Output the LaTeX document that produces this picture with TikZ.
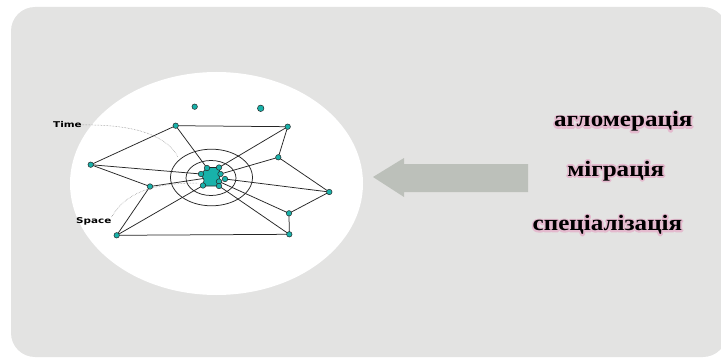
\documentclass[tikz,border=0pt]{standalone}
\usepackage{fontspec}
\setmainfont{Liberation Serif}
\newfontfamily\cyrfont[FakeStretch=1.14]{Liberation Serif}
\newfontfamily\tagfont[FakeStretch=1.3]{DejaVu Sans}
\usetikzlibrary{calc}
\definecolor{panelgray}{RGB}{227,227,226}
\definecolor{arrowgray}{RGB}{188,192,186}
\definecolor{dotcyan}{RGB}{24,178,170}
\definecolor{glowpink}{RGB}{228,186,206}
\tikzset{
    dot/.style={circle, draw=black!85, fill=dotcyan, inner sep=0pt, minimum size=5.5pt, line width=0.5pt},
    link/.style={black!85, line width=0.75pt},
    ring/.style={black!85, line width=0.75pt},
    tagline/.style={gray, densely dotted, line width=0.5pt},
    tag/.style={font=\tagfont\bfseries\fontsize{8}{9}\selectfont, inner sep=0pt},
    cyr/.style={font=\cyrfont\bfseries\fontsize{22}{26}\selectfont, inner sep=0pt, anchor=base}
}
\newcommand{\glowword}[4]{%
    \node[cyr, text=glowpink] at (#2,#3)
        {\special{pdf:literal direct 2 Tr 3.5 w 1 j}#4\special{pdf:literal direct 0 Tr 1 w 0 j}};
    \node[cyr] (#1) at (#2,#3) {#4};
}

\begin{document}
\begin{tikzpicture}[x=1pt, y=-1pt]
        \useasboundingbox (0,0) rectangle (721,361);
        \fill[panelgray, rounded corners=24pt] (11,7) rectangle (727,357);
        \fill[white] (216.5,183.5) ellipse [x radius=146.5, y radius=111.5];
        \draw[ring] (211.5,177.5) ellipse [x radius=41, y radius=28.3];
        \draw[ring] (211,178) ellipse [x radius=25, y radius=17.5];
        \filldraw[fill=dotcyan, draw=black!85, line width=0.6pt]
            (207,167.5) -- (219,167.5) -- (220,174) -- (219,182) -- (219,186)
            -- (203,186) -- (204,180) -- (201,174) -- cycle;
        \coordinate (hubleft) at (203.5,178.5);
        \foreach \n/\x/\y in {a/175.7/125.7, b/287.7/126.7, c/90.7/164.7, d/278.3/157.3,
                e/150/186.5, f/329.3/192, g/289/213.3, h/116.7/235.3, i/289.3/234.3} {
                \coordinate (\n) at (\x,\y);
            }
        \foreach \n/\x/\y in {n1/207/168, n2/219/167.5, n3/201/174, n4/220.5/174,
                n5/225/179, n6/219/181.5, n7/203/185.5, n8/219/186} {
                \coordinate (\n) at (\x,\y);
            }
        \foreach \u/\v in {a/b, a/c, b/d, c/e, d/f, e/h, f/g, g/i, h/i,
                a/n1, b/n2, c/n3, d/n4, e/hubleft, f/n5, g/n6, h/n7, i/n8} {
                \draw[link] (\u) -- (\v);
            }
        \foreach \n in {a, b, c, d, e, f, g, h, i, n1, n2, n3, n4, n5, n6, n7, n8} {
                \node[dot] at (\n) {};
            }
        \node[dot] (lone1) at (194.7,106.7) {};
        \node[dot, minimum width=5.5pt, minimum height=6.5pt] (lone2) at (260.7,108.3) {};
        \node[tag, anchor=west] (time) at (53,125) {Time};
        \node[tag, anchor=west] (space) at (76,221) {Space};
        \draw[tagline] (time.east) .. controls (140,124) and (168,138) .. (178,157);
        \draw[tagline] (space.north east) .. controls (125,194) and (150,183) .. (198,183);
        \fill[arrowgray] (373,177) -- (404,158) -- (404,164) -- (528,164)
            -- (528,192) -- (404,192) -- (404,197) -- cycle;
        \glowword{aglo}{623.3}{127}{агломерація}
        \glowword{migr}{615.8}{176}{міграція}
        \glowword{spec}{607.5}{230.7}{спеціалізація}
    \end{tikzpicture}
\end{document}
